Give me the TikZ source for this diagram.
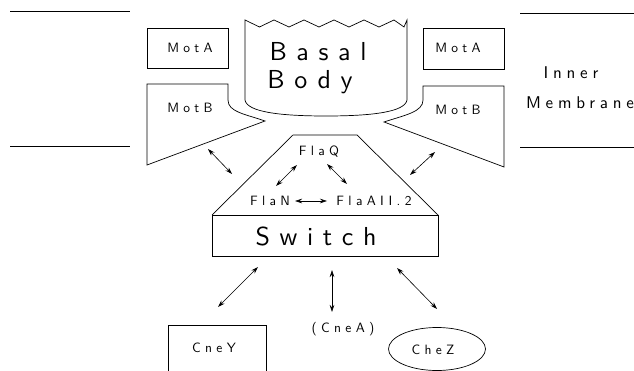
\documentclass[tikz,border=0pt]{standalone}
\usepackage{fontspec}
\usetikzlibrary{arrows.meta,shapes.geometric}
% spaced sans faces in three sizes
\newfontfamily\bigface{lmsans10-regular.otf}[LetterSpace=37]
\newfontfamily\midface{lmsans10-regular.otf}[LetterSpace=28]
\newfontfamily\smallface{lmsans10-regular.otf}[LetterSpace=32]
\tikzset{
  outline/.style={draw=black, line width=0.7pt, line join=miter},
  memline/.style={draw=black, line width=0.8pt},
  biglabel/.style={inner sep=0pt, font=\bigface\fontsize{26}{28}\selectfont},
  midlabel/.style={inner sep=0pt, font=\midface\fontsize{17}{19}\selectfont},
  smalllabel/.style={inner sep=0pt, font=\smallface\fontsize{13.5}{15}\selectfont},
  link/.style={line width=0.6pt, {Stealth[length=7pt,width=4.5pt]}-{Stealth[length=7pt,width=4.5pt]}},
}
\begin{document}
\begin{tikzpicture}[x=1pt,y=-1pt]
\useasboundingbox (0,0) rectangle (634,371);

% inner membrane boundaries
\draw[memline] (10,11) -- (130,11);
\draw[memline] (10,146) -- (130,146);
\draw[memline] (520,13) -- (634,13);
\draw[memline] (520,147) -- (634,147);
\node[midlabel] (inner) at (571,73) {Inner};
\node[midlabel] (membrane) at (580,103) {Membrane};

% basal body with torn top edge
\draw[outline] (245,100) -- (245,20)
  -- (259.5,27) -- (274,20) -- (289,27) -- (304,20) -- (319,27) -- (334,20)
  -- (349,27) -- (364,20) -- (379,27) -- (394,20) -- (404,27) -- (407,20)
  -- (407,100) .. controls (405,112) and (372,116) .. (326,116)
  .. controls (280,116) and (247,112) .. (245,100);
\node[biglabel] (basal) at (318,52) {Basal};
\node[biglabel] (body) at (310,82) {Body};

% MotA boxes
\node[outline, minimum width=81pt, minimum height=40pt, inner sep=0pt] (motaLbox) at (187.5,48) {};
\node[smalllabel] (motaL) at (190,48) {MotA};
\node[outline, minimum width=81pt, minimum height=41pt, inner sep=0pt] (motaRbox) at (463.5,48.5) {};
\node[smalllabel] (motaR) at (458,48) {MotA};

% MotB wedges
\draw[outline] (147,84) -- (228,84) -- (228,100)
  .. controls (228,112) and (245,114) .. (265,121) -- (147,165) -- cycle;
\node[smalllabel] (motbL) at (190,108) {MotB};
\draw[outline] (504,86) -- (423,86) -- (423,100)
  .. controls (423,112) and (405,115) .. (384,122) -- (504,167) -- cycle;
\node[smalllabel] (motbR) at (458,110) {MotB};

% switch complex
\draw[outline] (212,215) -- (293,135) -- (357,135) -- (438,215);
\node[outline, minimum width=226pt, minimum height=41pt, inner sep=0pt] (switchbox) at (325,235.5) {};
\node[biglabel] (switch) at (316,236) {Switch};
\node[smalllabel] (flaq) at (319,152) {FlaQ};
\node[smalllabel] (flan) at (270,201) {FlaN};
\node[smalllabel] (flaa) at (374,201) {FlaAII.2};

% cytoplasmic partners
\draw[outline] (168,371) -- (168,325) -- (266,325) -- (266,371);
\node[smalllabel] (cney) at (214,348) {CneY};
\node[smalllabel] (cnea) at (343,329) {(CneA)};
\node[outline, ellipse, minimum width=97pt, minimum height=43pt, inner sep=0pt] (chezbox) at (437,349) {};
\node[smalllabel] (chez) at (433,350) {CheZ};

% arrow end points
\coordinate (mbl1) at (208,149); \coordinate (mbl2) at (232,174);
\coordinate (mbr1) at (435,152); \coordinate (mbr2) at (410,175);
\coordinate (qn1) at (297,165);  \coordinate (qn2) at (276,186);
\coordinate (qa1) at (327,164);  \coordinate (qa2) at (347,184);
\coordinate (na1) at (295,201);  \coordinate (na2) at (327,201);
\coordinate (sy1) at (258,267);  \coordinate (sy2) at (218,307);
\coordinate (sa1) at (332,270);  \coordinate (sa2) at (332,312);
\coordinate (sz1) at (397,268);  \coordinate (sz2) at (437,309);

\draw[link] (mbl1) -- (mbl2);
\draw[link] (mbr1) -- (mbr2);
\draw[link] (qn1) -- (qn2);
\draw[link] (qa1) -- (qa2);
\draw[link] (na1) -- (na2);
\draw[link] (sy1) -- (sy2);
\draw[link] (sa1) -- (sa2);
\draw[link] (sz1) -- (sz2);
\end{tikzpicture}
\end{document}
